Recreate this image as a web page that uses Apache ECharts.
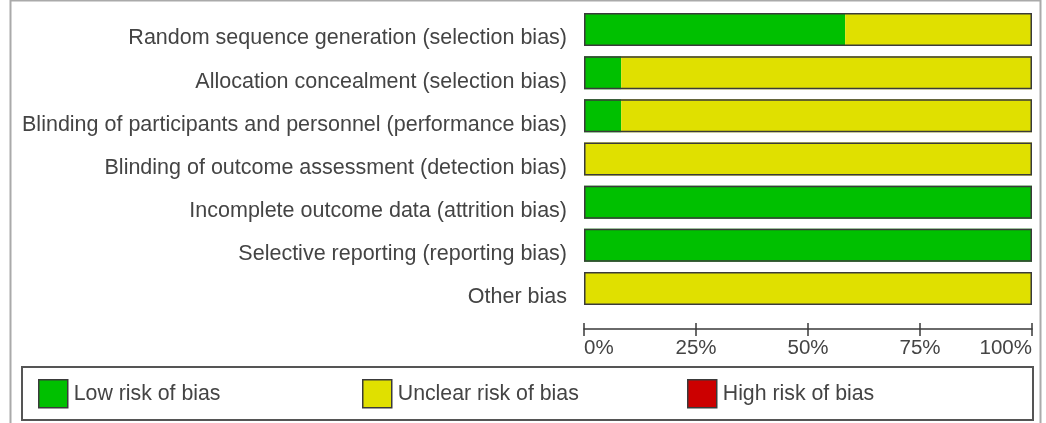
<!DOCTYPE html>
<html lang="en">
<head>
    <meta charset="UTF-8">
    <title>Risk of bias</title>
    <script src="https://cdn.jsdelivr.net/npm/echarts@6/dist/echarts.min.js"></script>
    <style>
        html, body { margin: 0; padding: 0; background: #fff; }
    </style>
</head>
<body>
<div id="main" style="width: 1046px;height:423px;"></div>

<script type="text/javascript">
    // domains, top to bottom
    var domains = [
        'Random sequence generation (selection bias)',
        'Allocation concealment (selection bias)',
        'Blinding of participants and personnel (performance bias)',
        'Blinding of outcome assessment (detection bias)',
        'Incomplete outcome data (attrition bias)',
        'Selective reporting (reporting bias)',
        'Other bias'
    ];
    // percent of studies per judgement
    var lowRisk = [58.3, 8.3, 8.3, 0, 100, 100, 0];
    var unclearRisk = [41.7, 91.7, 91.7, 100, 0, 0, 100];
    var highRisk = [0, 0, 0, 0, 0, 0, 0];
    var tickLabels = ['0%', '25%', '50%', '75%', '100%'];

    var totals = [];
    for (var i = 0; i < domains.length; i++) {
        totals.push(lowRisk[i] + unclearRisk[i] + highRisk[i]);
    }

    var myChart = echarts.init(document.getElementById('main'));

    var font = 'Liberation Sans, Arial, sans-serif';
    var edge = '#3a3a3a';

    // segments carry no outline of their own, the frame series draws it
    function part(name, data, color) {
        return {
            name: name,
            type: 'bar',
            stack: 'rob',
            barWidth: 33,
            data: data,
            itemStyle: { color: color, borderWidth: 0 },
            emphasis: { disabled: true },
            z: 2
        };
    }

    function legendAt(name, color, left) {
        return {
            data: [name],
            left: left,
            top: 379,
            padding: 0,
            icon: 'rect',
            itemWidth: 29,
            itemHeight: 28,
            itemStyle: { color: color, borderColor: edge, borderWidth: 1.5 },
            selectedMode: false,
            textStyle: { fontSize: 21.3, color: '#444', fontFamily: font, padding: [0, 0, 0, 1] }
        };
    }

    var option = {
        animation: false,
        grid: { left: 584, right: 14, top: 8, height: 302 },
        legend: [
            legendAt('Low risk of bias', '#00c000', 38),
            legendAt('Unclear risk of bias', '#e0e000', 362),
            legendAt('High risk of bias', '#cc0000', 687)
        ],
        graphic: [
            // outer frame of the figure
            { type: 'rect', shape: { x: 10.5, y: 0.5, width: 1030, height: 440 },
              style: { fill: 'none', stroke: '#aaa', lineWidth: 2 }, silent: true },
            // legend box
            { type: 'rect', shape: { x: 22, y: 367, width: 1011, height: 53 },
              style: { fill: 'none', stroke: '#555', lineWidth: 2 }, silent: true }
        ],
        xAxis: [{
            type: 'value',
            position: 'bottom',
            offset: 19,
            min: 0,
            max: 100,
            interval: 25,
            axisLine: { show: true, lineStyle: { color: edge, width: 1.5 } },
            axisTick: { show: true, length: 7, lineStyle: { color: edge, width: 1.5 } },
            splitLine: { show: false },
            axisLabel: {
                fontSize: 20.5,
                color: '#444',
                fontFamily: font,
                margin: 9,
                alignMinLabel: 'left',
                alignMaxLabel: 'right',
                formatter: function (v) { return tickLabels[Math.round(v / 25)]; }
            }
        }, {
            type: 'value',
            position: 'bottom',
            offset: 19,
            min: 0,
            max: 100,
            interval: 25,
            axisLine: { show: false },
            axisTick: { show: true, inside: true, length: 6, lineStyle: { color: edge, width: 1.5 } },
            splitLine: { show: false },
            axisLabel: { show: false }
        }],
        yAxis: {
            type: 'category',
            inverse: true,
            data: domains,
            axisLine: { show: false },
            axisTick: { show: false },
            axisLabel: {
                fontSize: 21.5,
                color: '#444',
                fontFamily: font,
                margin: 17,
                verticalAlign: 'top',
                lineHeight: 18
            }
        },
        series: [
            part('Low risk of bias', lowRisk, '#00c000'),
            part('Unclear risk of bias', unclearRisk, '#e0e000'),
            part('High risk of bias', highRisk, '#cc0000'),
            {
                name: 'frame',
                type: 'bar',
                barWidth: 33,
                barGap: '-100%',
                data: totals,
                itemStyle: { color: 'rgba(0,0,0,0)', borderColor: edge, borderWidth: 1.5 },
                emphasis: { disabled: true },
                z: 3
            }
        ]
    };

    myChart.setOption(option);
</script>
</body>
</html>
